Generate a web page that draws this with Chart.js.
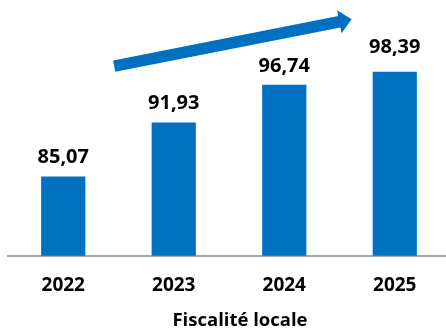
<!DOCTYPE html>
<html>
<head>
<meta charset="utf-8">
<script src="https://cdn.jsdelivr.net/npm/chart.js@4.4.1/dist/chart.umd.min.js"></script>
<style>
  html, body { margin: 0; padding: 0; background: #ffffff; }
  #wrap { width: 446px; height: 330px; overflow: hidden; position: relative; }
  canvas { display: block; }
</style>
</head>
<body>
<div id="wrap"><canvas id="c" width="452" height="330"></canvas></div>
<script>
// ---- data ----
const categories = ['2022', '2023', '2024', '2025'];
const values = [85.07, 91.93, 96.74, 98.39];
const valueLabels = ['85,07', '91,93', '96,74', '98,39'];
const axisTitle = 'Fiscalité locale';

const BLUE = '#0070C0';
const FONT = '"Open Sans", "Liberation Sans", sans-serif';

const decorPlugin = {
  id: 'decor',
  afterDatasetsDraw(chart, args, opts) {
    const ctx = chart.ctx;
    const meta = chart.getDatasetMeta(0);
    ctx.save();
    ctx.fillStyle = '#000000';
    ctx.font = 'bold 20px ' + FONT;
    ctx.textAlign = 'center';
    ctx.textBaseline = 'alphabetic';
    meta.data.forEach((bar, i) => {
      ctx.fillText(valueLabels[i], bar.x, bar.y - opts.labelGaps[i]);
    });
    ctx.restore();
  },
  afterDraw(chart, args, opts) {
    const ctx = chart.ctx;
    const xs = chart.scales.x, ys = chart.scales.y;
    // arrow
    const a = opts.arrow;
    const x0 = xs.getPixelForValue(a.from[0]), y0 = ys.getPixelForValue(a.from[1]);
    const x1 = xs.getPixelForValue(a.to[0]), y1 = ys.getPixelForValue(a.to[1]);
    const ang = Math.atan2(y1 - y0, x1 - x0);
    const len = Math.hypot(x1 - x0, y1 - y0);
    ctx.save();
    ctx.translate(x0, y0);
    ctx.rotate(ang);
    ctx.fillStyle = BLUE;
    const sw = a.shaft / 2, hw = a.head / 2, hl = a.headLen;
    ctx.beginPath();
    ctx.moveTo(0, -sw);
    ctx.lineTo(len - hl, -sw);
    ctx.lineTo(len - hl, -hw);
    ctx.lineTo(len, 0);
    ctx.lineTo(len - hl, hw);
    ctx.lineTo(len - hl, sw);
    ctx.lineTo(0, sw);
    ctx.closePath();
    ctx.fill();
    ctx.restore();
    // axis title
    ctx.save();
    ctx.fillStyle = '#000000';
    ctx.font = 'bold 18.5px ' + FONT;
    ctx.textAlign = 'center';
    ctx.textBaseline = 'alphabetic';
    ctx.fillText(axisTitle, (chart.chartArea.left + chart.chartArea.right) / 2 + opts.titleShift, chart.chartArea.bottom + opts.titleDrop);
    ctx.restore();
  }
};

new Chart(document.getElementById('c'), {
  type: 'bar',
  data: {
    labels: categories,
    datasets: [{
      data: values,
      backgroundColor: BLUE,
      borderWidth: 0,
      barPercentage: 0.4,
      categoryPercentage: 1.0
    }]
  },
  options: {
    responsive: false,
    animation: false,
    devicePixelRatio: 1,
    layout: { padding: { top: 59, left: 8, right: 2, bottom: 15.5 } },
    plugins: {
      legend: { display: false },
      tooltip: { enabled: false },
      decor: {
        labelGaps: [13, 13.5, 12.5, 19],
        arrow: { from: [0.461, 99.1], to: [2.61, 105.04], shaft: 11.5, head: 23.6, headLen: 12.5 },
        titleShift: 11,
        titleDrop: 70
      }
    },
    scales: {
      x: {
        grid: { display: false, drawTicks: false },
        border: { display: true, color: '#a6a6a6', width: 2 },
        ticks: { color: '#000000', font: { family: FONT, size: 19, weight: 'bold' }, padding: 18 }
      },
      y: {
        display: false,
        min: 75,
        max: 100
      }
    }
  },
  plugins: [decorPlugin]
});
</script>
</body>
</html>
